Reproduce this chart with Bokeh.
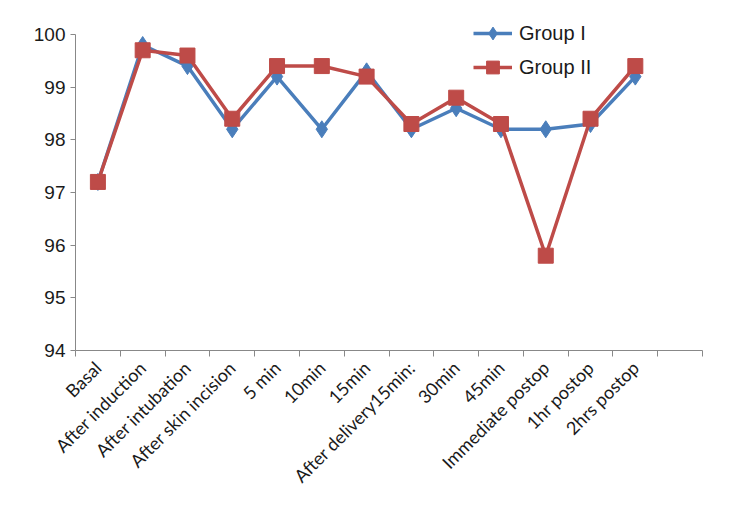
import math
from bokeh.plotting import figure
from bokeh.models import Range1d, FixedTicker, Legend, LegendItem
from bokeh.embed import file_html
from bokeh.resources import INLINE

categories = ["Basal", "After induction", "After intubation", "After skin incision",
              "5 min", "10min", "15min", "After delivery15min:", "30min", "45min",
              "Immediate postop", "1hr postop", "2hrs postop"]
group1 = [97.2, 99.8, 99.4, 98.2, 99.2, 98.2, 99.3, 98.2, 98.6, 98.2, 98.2, 98.3, 99.2]
group2 = [97.2, 99.7, 99.6, 98.4, 99.4, 99.4, 99.2, 98.3, 98.8, 98.3, 95.8, 98.4, 99.4]
y_ticks = [94, 95, 96, 97, 98, 99, 100]
n_slots = 14

xs = [i + 0.5 for i in range(len(categories))]

p = figure(width=726, height=498, output_backend="svg", toolbar_location=None,
           x_range=Range1d(0, n_slots), y_range=Range1d(94, 100.55),
           min_border_left=75, min_border_right=24, min_border_top=5, min_border_bottom=148)
p.outline_line_color = None
p.xgrid.visible = False
p.ygrid.visible = False

blue = "#4A7EBB"
red = "#BE4B48"

l1 = p.line(xs, group1, line_color=blue, line_width=3.5)
m1 = p.scatter(xs, group1, marker="diamond", size=17, fill_color=blue, line_color=blue)
l2 = p.line(xs, group2, line_color=red, line_width=3.5)
m2 = p.scatter(xs, group2, marker="square", size=15, fill_color=red, line_color=red)

legend = Legend(items=[LegendItem(label="Group I", renderers=[l1, m1]),
                       LegendItem(label="Group II", renderers=[l2, m2])],
                location=(398, 267), orientation="vertical",
                glyph_width=39, glyph_height=32, label_height=32, spacing=2,
                padding=0, margin=0, label_standoff=7,
                label_text_font="Liberation Sans", label_text_font_size="20px",
                label_text_color="#1a1a1a", background_fill_alpha=0, border_line_color=None)
p.add_layout(legend, "center")

axis_color = "#888888"
yax = p.yaxis[0]
yax.ticker = FixedTicker(ticks=y_ticks)
yax.bounds = (94, 100)
yax.axis_line_color = axis_color
yax.major_tick_line_color = axis_color
yax.major_tick_out = 5
yax.major_tick_in = 0
yax.minor_tick_line_color = None
yax.major_label_text_font = "Liberation Sans"
yax.major_label_text_font_size = "19px"
yax.major_label_text_color = "#1a1a1a"
yax.major_label_standoff = 5

xax = p.xaxis[0]
xax.ticker = FixedTicker(ticks=xs, minor_ticks=list(range(n_slots + 1)))
xax.major_label_overrides = {x: c for x, c in zip(xs, categories)}
xax.axis_line_color = axis_color
xax.major_tick_line_color = None
xax.minor_tick_line_color = axis_color
xax.minor_tick_out = 6
xax.minor_tick_in = 0
xax.major_label_orientation = math.pi / 4
xax.major_label_text_font = "Lato"
xax.major_label_text_font_size = "18px"
xax.major_label_text_color = "#1a1a1a"
xax.major_label_standoff = 8

open("out.html", "w").write(file_html(p, INLINE))
